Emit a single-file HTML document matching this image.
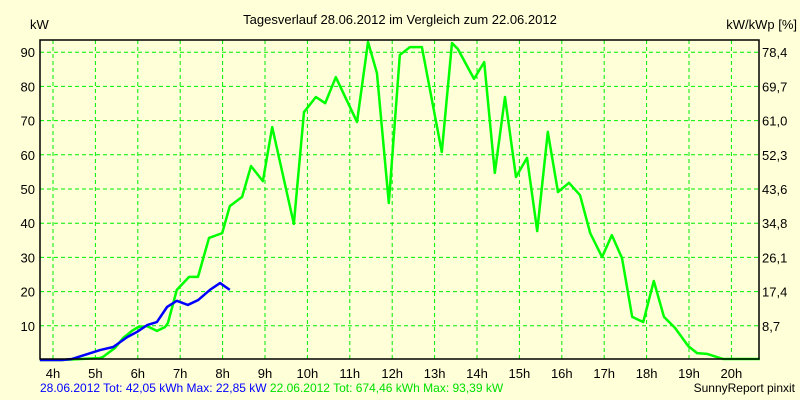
<!DOCTYPE html>
<html><head><meta charset="utf-8"><style>
body{margin:0;background:#ffffd8;}
svg{display:block;font-family:"Liberation Sans",Arial,sans-serif;font-size:12px;}
</style></head><body>
<svg id="chart" width="800" height="400" viewBox="0 0 800 400">
<rect x="0" y="0" width="800" height="400" fill="#ffffd8"/>
<text x="400" y="24" text-anchor="middle" font-size="13">Tagesverlauf 28.06.2012 im Vergleich zum 22.06.2012</text>
<text x="30" y="29" font-size="13">kW</text>
<text x="797" y="29" text-anchor="end" font-size="13">kW/kWp [%]</text>
<g id="grid"></g>
<g id="series"></g>
<g id="labels"></g>
<rect x="40" y="40" width="719" height="319" fill="none" stroke="#000" stroke-width="1.5"/>
<text x="40" y="392" font-size="12"><tspan fill="#0000ff">28.06.2012 Tot: 42,05 kWh Max: 22,85 kW</tspan> <tspan fill="#00e000">22.06.2012 Tot: 674,46 kWh Max: 93,39 kW</tspan></text>
<text x="795" y="392" text-anchor="end" font-size="12">SunnyReport pinxit</text>
</svg>
<script>
const hourTicks=[4,5,6,7,8,9,10,11,12,13,14,15,16,17,18,19,20];
const kwTicks=[10,20,30,40,50,60,70,80,90];
const pctLabels=["8,7","17,4","26,1","34,8","43,6","52,3","61,0","69,7","78,4"];
const greenHours=[3.69,4.21,5.11,5.18,5.46,5.65,5.86,6.00,6.22,6.45,6.64,6.71,6.92,7.21,7.42,7.68,7.99,8.17,8.46,8.67,8.95,9.17,9.68,9.92,10.20,10.42,10.67,11.17,11.43,11.64,11.92,12.18,12.42,12.70,13.17,13.41,13.55,13.93,14.17,14.42,14.66,14.92,15.18,15.42,15.67,15.91,16.17,16.43,16.67,16.95,17.18,17.42,17.66,17.92,18.17,18.41,18.67,18.98,19.19,19.42,19.80,20.67];
const greenKW=[0,0,0.6,0.9,3.5,6.4,8.5,9.6,9.9,8.5,9.6,10.8,20.5,24.3,24.3,35.7,37.1,45.0,47.7,56.7,52.3,68.1,39.8,72.5,76.9,75.1,82.7,69.6,93.0,83.9,45.9,89.2,91.5,91.5,60.8,92.7,90.9,82.2,87.1,54.7,76.9,53.5,59.1,37.7,66.7,49.1,51.8,48.2,37.1,30.1,36.5,29.8,12.6,11.1,23.1,12.6,9.4,4.1,2.0,1.8,0.3,0.3];
const blueHours=[3.69,4.21,4.45,5.11,5.42,5.75,5.98,6.22,6.45,6.69,6.92,7.18,7.42,7.70,7.94,8.17];
const blueKW=[0,0,0.3,2.9,3.8,6.7,8.2,10.2,11.1,15.5,17.3,16.1,17.5,20.5,22.5,20.5];

const X=h=>53+(h-4)*42.4;
const Y=v=>360-v*3.42;
const NS="http://www.w3.org/2000/svg";
const grid=document.getElementById('grid'),series=document.getElementById('series'),labels=document.getElementById('labels');
function mk(tag,attrs,parent){const e=document.createElementNS(NS,tag);for(const k in attrs)e.setAttribute(k,attrs[k]);parent.appendChild(e);return e;}
hourTicks.forEach(h=>{
  const l=mk('line',{x1:X(h),x2:X(h),y1:40,y2:359,stroke:'#00ee00','stroke-width':1,'stroke-dasharray':'4,3'},grid);
  
  
  const t=mk('text',{x:X(h),y:378,'text-anchor':'middle','font-size':13},labels);
  t.textContent=h+'h';
  
  
});
kwTicks.forEach((v,i)=>{
  const l=mk('line',{x1:40,x2:759,y1:Y(v),y2:Y(v),stroke:'#00ee00','stroke-width':1,'stroke-dasharray':'4,3'},grid);
  
  
  const t=mk('text',{x:35,y:Y(v)+5,'text-anchor':'end','font-size':13},labels);
  t.textContent=v;
  
  
  const t2=mk('text',{x:762,y:Y(v)+5,'font-size':13},labels);
  t2.textContent=pctLabels[i];
  
  
});
const g=mk('polyline',{points:greenHours.map((h,i)=>X(h)+','+Y(greenKW[i])).join(' '),fill:'none',stroke:'#00ff00','stroke-width':2.5,'stroke-linejoin':'round'},series);


const b=mk('polyline',{points:blueHours.map((h,i)=>X(h)+','+Y(blueKW[i])).join(' '),fill:'none',stroke:'#0000ff','stroke-width':2.5,'stroke-linejoin':'round'},series);


</script>
</body></html>
